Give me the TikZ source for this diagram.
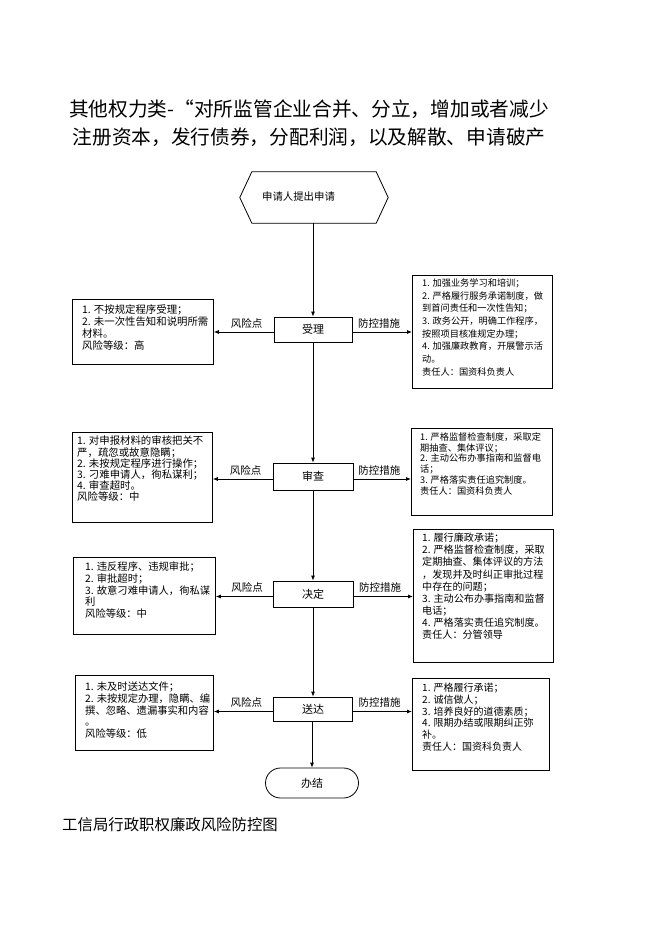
\documentclass[tikz,border=0pt]{standalone}
\usepackage{fontspec}
\setmainfont{Noto Sans CJK SC}
\usetikzlibrary{arrows.meta}
\tikzset{
  sidebox/.style={draw=black, line width=0.8pt, anchor=north west, inner sep=0pt},
  btext/.style={anchor=north west, inner sep=0pt, align=left},
  procbox/.style={draw=black, line width=0.8pt, inner sep=0pt, font=\fontsize{11}{13}\selectfont},
  arr/.style={line width=0.8pt, -{Latex[length=5pt,width=4pt]}},
  lbl/.style={font=\fontsize{10.5}{12}\selectfont, inner sep=2pt},
}
\begin{document}
\begin{tikzpicture}[x=1pt,y=-1pt]
\useasboundingbox (0,0) rectangle (662,936);
\fill[white] (0,0) rectangle (662,936);

% title
\node[anchor=north, inner sep=0pt, align=center, font=\fontsize{19.7}{28}\selectfont] (title) at (309,100)
  {其他权力类-“对所监管企业合并、分立，增加或者减少\\注册资本，发行债券，分配利润，以及解散、申请破产};

% start hexagon
\node[minimum width=148, minimum height=51, inner sep=0pt] (h) at (314,197.5) {};
\draw[line width=0.8pt] ([xshift=12pt]h.north west) -- ([xshift=-12pt]h.north east) -- (h.east)
  -- ([xshift=-12pt]h.south east) -- ([xshift=12pt]h.south west) -- (h.west) -- cycle;
\node[inner sep=0pt, font=\fontsize{10.4}{12}\selectfont] (ht) at (298.5,197) {申请人提出申请};

% process boxes
\node[procbox, minimum width=78, minimum height=25] (p1) at (313,329.5) {受理};
\node[procbox, minimum width=80, minimum height=27] (p2) at (313,476.5) {审查};
\node[procbox, minimum width=80, minimum height=26] (p3) at (313,594) {决定};
\node[procbox, minimum width=79, minimum height=24] (p4) at (313,709) {送达};
\node[procbox, minimum width=93, minimum height=30, rounded corners=15pt] (e) at (312,783) {办结};

% side boxes
\node[sidebox, minimum width=141, minimum height=65] (l1) at (72,299) {};
\node[sidebox, minimum width=140, minimum height=113] (r1) at (412,275) {};
\node[sidebox, minimum width=140, minimum height=90] (l2) at (72,432) {};
\node[sidebox, minimum width=141, minimum height=87] (r2) at (411,428) {};
\node[sidebox, minimum width=142, minimum height=77] (l3) at (73,557) {};
\node[sidebox, minimum width=140, minimum height=133] (r3) at (413,529) {};
\node[sidebox, minimum width=138, minimum height=75] (l4) at (75,675) {};
\node[sidebox, minimum width=137, minimum height=92] (r4) at (412,678) {};

% side box texts
\node[btext, font=\fontsize{10.4}{12}\selectfont] (l1t) at (82,304.8)
  {1. 不按规定程序受理；\\2. 未一次性告知和说明所需\\材料。\\风险等级：高};
\node[btext, font=\fontsize{9.2}{12.7}\selectfont] (r1t) at (422,278.4)
  {1. 加强业务学习和培训；\\2. 严格履行服务承诺制度，做\\到首问责任和一次性告知；\\3. 政务公开，明确工作程序，\\按照项目核准规定办理；\\4. 加强廉政教育，开展警示活\\动。\\责任人：国资科负责人};
\node[btext, font=\fontsize{10.4}{11.2}\selectfont] (l2t) at (77,435.8)
  {1. 对申报材料的审核把关不\\严，疏忽或故意隐瞒；\\2. 未按规定程序进行操作；\\3. 刁难申请人，徇私谋利；\\4. 审查超时。\\风险等级：中};
\node[btext, font=\fontsize{9.2}{10.8}\selectfont] (r2t) at (420,432.4)
  {1. 严格监督检查制度，采取定\\期抽查、集体评议；\\2. 主动公布办事指南和监督电\\话；\\3. 严格落实责任追究制度。\\责任人：国资科负责人};
\node[btext, font=\fontsize{10.3}{11.6}\selectfont] (l3t) at (85,561.9)
  {1. 违反程序、违规审批；\\2. 审批超时；\\3. 故意刁难申请人，徇私谋\\利\\风险等级：中};
\node[btext, font=\fontsize{10.1}{12.1}\selectfont] (r3t) at (422,533)
  {1. 履行廉政承诺；\\2. 严格监督检查制度，采取\\定期抽查、集体评议的方法\\，发现并及时纠正审批过程\\中存在的问题；\\3. 主动公布办事指南和监督\\电话；\\4. 严格落实责任追究制度。\\责任人：分管领导};
\node[btext, font=\fontsize{10.3}{11.6}\selectfont] (l4t) at (85,681.9)
  {1. 未及时送达文件；\\2. 未按规定办理，隐瞒、编\\撰、忽略、遗漏事实和内容\\。\\风险等级：低};
\node[btext, font=\fontsize{10}{11.7}\selectfont] (r4t) at (422,683)
  {1. 严格履行承诺；\\2. 诚信做人；\\3. 培养良好的道德素质；\\4. 限期办结或限期纠正弥\\补。\\责任人：国资科负责人};

% vertical flow
\draw[arr] (h.south -| p1.north) -- (p1.north);
\draw[arr] (p1.south) -- (p2.north);
\draw[arr] (p2.south) -- (p3.north);
\draw[arr] (p3.south) -- (p4.north);
\draw[arr] (p4.south -| e.north) -- (e.north);

% side connectors
\foreach \p/\l/\r in {p1/l1/r1, p2/l2/r2, p3/l3/r3, p4/l4/r4}{
  \draw[arr] ([yshift=-2.5pt]\p.west) -- node[lbl, above=1.5pt, pos=0.45] {风险点} ([yshift=-2.5pt]\p.west -| \l.east);
  \draw[arr] ([yshift=-2.5pt]\p.east) -- node[lbl, above=1.5pt, pos=0.45] {防控措施} ([yshift=-2.5pt]\p.east -| \r.west);
}

% footer
\node[anchor=west, inner sep=0pt, font=\fontsize{15.4}{18}\selectfont] (foot) at (62,825) {工信局行政职权廉政风险防控图};
\end{tikzpicture}
\end{document}
